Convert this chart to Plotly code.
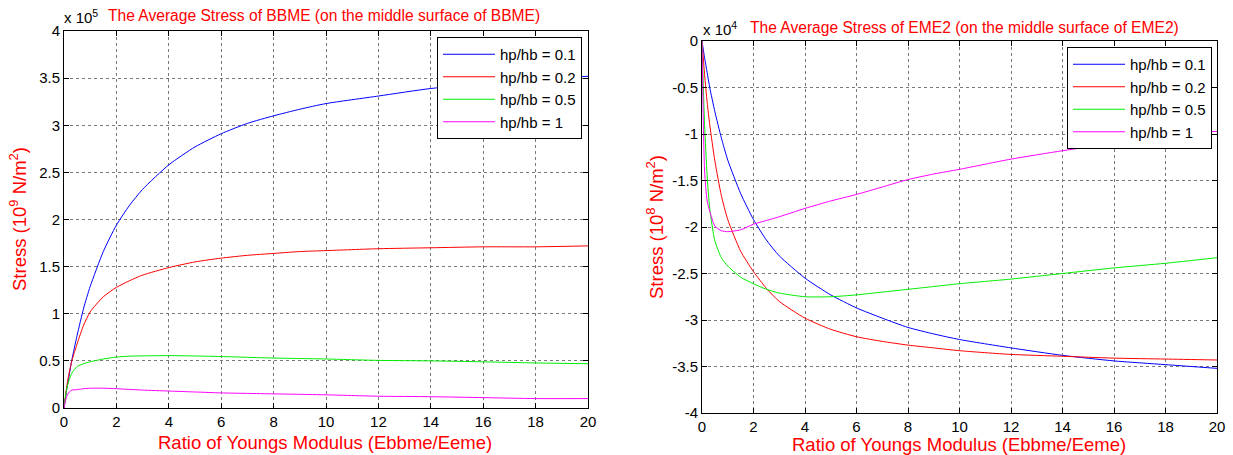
import plotly.graph_objects as go

# ---- data ----
x_vals = [0, 0.1, 0.2, 0.3, 0.5, 0.75, 1, 1.5, 2, 2.5, 3, 4, 5, 6, 7, 8, 9, 10, 12, 14, 16, 18, 20]
series_names = ["hp/hb = 0.1", "hp/hb = 0.2", "hp/hb = 0.5", "hp/hb = 1"]
series_colors = ["#0000ff", "#ff0000", "#00ee00", "#ff00ff"]

# Left: BBME average stress (units of 1e5)
bbme_01 = [0, 0.19, 0.35, 0.51, 0.77, 1.06, 1.29, 1.66, 1.94, 2.15, 2.32, 2.58, 2.77, 2.91, 3.02, 3.10, 3.17, 3.23, 3.31, 3.39, 3.44, 3.48, 3.52]
bbme_02 = [0, 0.22, 0.38, 0.50, 0.68, 0.88, 1.02, 1.18, 1.28, 1.35, 1.41, 1.49, 1.55, 1.59, 1.62, 1.64, 1.66, 1.67, 1.69, 1.70, 1.71, 1.71, 1.72]
bbme_05 = [0, 0.20, 0.30, 0.37, 0.44, 0.47, 0.49, 0.52, 0.54, 0.55, 0.553, 0.556, 0.552, 0.546, 0.538, 0.53, 0.525, 0.52, 0.505, 0.50, 0.49, 0.478, 0.47]
bbme_1 = [0, 0.12, 0.17, 0.19, 0.195, 0.205, 0.21, 0.21, 0.205, 0.197, 0.19, 0.18, 0.17, 0.16, 0.155, 0.15, 0.145, 0.14, 0.125, 0.12, 0.11, 0.10, 0.10]

# Right: EME2 average stress (units of 1e4)
eme_01 = [0, -0.18, -0.34, -0.50, -0.76, -1.04, -1.28, -1.64, -1.92, -2.14, -2.31, -2.55, -2.73, -2.87, -2.98, -3.08, -3.15, -3.21, -3.30, -3.38, -3.44, -3.48, -3.52]
eme_02 = [0, -0.36, -0.66, -0.90, -1.29, -1.66, -1.92, -2.26, -2.48, -2.66, -2.80, -2.98, -3.10, -3.18, -3.23, -3.27, -3.30, -3.33, -3.37, -3.39, -3.41, -3.42, -3.43]
eme_05 = [0, -0.90, -1.45, -1.80, -2.15, -2.33, -2.42, -2.54, -2.61, -2.67, -2.71, -2.75, -2.75, -2.73, -2.70, -2.67, -2.64, -2.61, -2.56, -2.50, -2.44, -2.39, -2.33]
eme_1 = [0, -1.40, -1.72, -1.83, -1.99, -2.04, -2.05, -2.03, -1.97, -1.93, -1.89, -1.80, -1.72, -1.65, -1.57, -1.49, -1.43, -1.38, -1.27, -1.18, -1.10, -1.03, -0.97]

x_ticks = [0, 2, 4, 6, 8, 10, 12, 14, 16, 18, 20]
left_yticks = [0, 0.5, 1, 1.5, 2, 2.5, 3, 3.5, 4]
right_yticks = [0, -0.5, -1, -1.5, -2, -2.5, -3, -3.5, -4]

W, H = 1233, 455
FONT = "Liberation Sans, Arial, sans-serif"

fig = go.Figure()
for ys, name, col in zip([bbme_01, bbme_02, bbme_05, bbme_1], series_names, series_colors):
    fig.add_trace(go.Scatter(x=x_vals, y=ys, mode="lines", name=name, line=dict(color=col, width=1, shape="spline", smoothing=0.6),
                             xaxis="x", yaxis="y", legend="legend"))
for ys, name, col in zip([eme_01, eme_02, eme_05, eme_1], series_names, series_colors):
    fig.add_trace(go.Scatter(x=x_vals, y=ys, mode="lines", name=name, line=dict(color=col, width=1, shape="spline", smoothing=0.6),
                             xaxis="x2", yaxis="y2", legend="legend2"))

def px_x(p):
    return p / W

def px_y(p):
    return 1 - p / H

axis_common = dict(
    showline=True, linecolor="black", linewidth=1, mirror="allticks",
    ticks="inside", ticklen=5, tickcolor="black",
    showgrid=True, gridcolor="#7a7a7a", griddash="dot", gridwidth=1,
    zeroline=False, automargin=False,
    tickfont=dict(family=FONT, size=15, color="black"),
)

legend_common = dict(
    xanchor="right", yanchor="top",
    bgcolor="white", bordercolor="black", borderwidth=1,
    font=dict(family=FONT, size=15, color="black"), tracegroupgap=0,
    itemwidth=52,
)

fig.update_layout(
    width=W, height=H,
    margin=dict(l=0, r=0, t=0, b=0),
    paper_bgcolor="white", plot_bgcolor="white",
    showlegend=True,
    xaxis=dict(domain=[px_x(64), px_x(588)], range=[0, 20], tickvals=x_ticks, anchor="y", **axis_common),
    yaxis=dict(domain=[px_y(408), px_y(31)], range=[0, 4], tickvals=left_yticks,
               ticktext=[f"{v:g}" for v in left_yticks], anchor="x", **axis_common),
    xaxis2=dict(domain=[px_x(702), px_x(1217)], range=[0, 20], tickvals=x_ticks, anchor="y2", **axis_common),
    yaxis2=dict(domain=[px_y(413), px_y(41)], range=[-4, 0], tickvals=right_yticks,
                ticktext=[f"{v:g}" for v in right_yticks], anchor="x2", **axis_common),
    legend=dict(x=px_x(582), y=px_y(37), **legend_common),
    legend2=dict(x=px_x(1212), y=px_y(47), **legend_common),
)

red = "#ff0000"
ann = [
    # exponent labels
    dict(x=px_x(62), y=px_y(17), text="x 10<sup>5</sup>", xanchor="left", yanchor="middle",
         font=dict(family=FONT, size=15, color="black")),
    dict(x=px_x(701), y=px_y(28), text="x 10<sup>4</sup>", xanchor="left", yanchor="middle",
         font=dict(family=FONT, size=15, color="black")),
    # titles
    dict(x=px_x(106), y=px_y(16), text="The Average Stress of BBME (on the middle surface of BBME)",
         xanchor="left", yanchor="middle", font=dict(family=FONT, size=15.6, color=red)),
    dict(x=px_x(748), y=px_y(27), text="The Average Stress of EME2 (on the middle surface of EME2)",
         xanchor="left", yanchor="middle", font=dict(family=FONT, size=15.6, color=red)),
    # x titles
    dict(x=px_x(325), y=px_y(442), text="Ratio of Youngs Modulus (Ebbme/Eeme)", xanchor="center", yanchor="middle",
         font=dict(family=FONT, size=18.5, color=red)),
    dict(x=px_x(959), y=px_y(444), text="Ratio of Youngs Modulus (Ebbme/Eeme)", xanchor="center", yanchor="middle",
         font=dict(family=FONT, size=18.5, color=red)),
    # y titles
    dict(x=px_x(18), y=px_y(219), text="Stress (10<sup>9</sup> N/m<sup>2</sup>)", textangle=-90,
         xanchor="center", yanchor="middle", font=dict(family=FONT, size=18.5, color=red)),
    dict(x=px_x(655), y=px_y(227), text="Stress (10<sup>8</sup> N/m<sup>2</sup>)", textangle=-90,
         xanchor="center", yanchor="middle", font=dict(family=FONT, size=18.5, color=red)),
]
for a in ann:
    a.update(xref="paper", yref="paper", showarrow=False)
fig.update_layout(annotations=ann)

fig.write_html("out.html", config={"displayModeBar": False},
               post_script="document.body.style.margin='0px';document.body.style.overflow='hidden';")
